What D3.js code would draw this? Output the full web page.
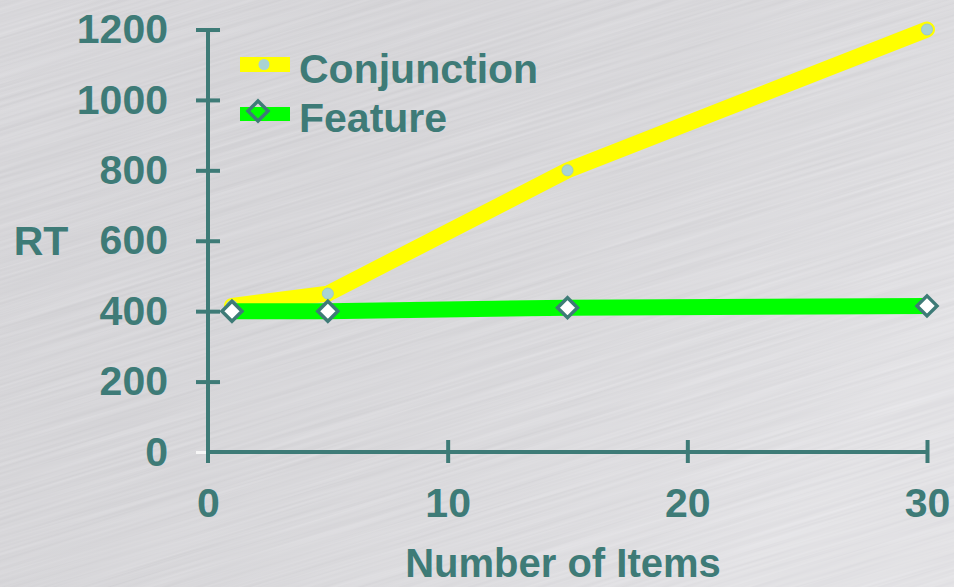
<!DOCTYPE html>
<html>
<head>
<meta charset="utf-8">
<script src="https://cdn.jsdelivr.net/npm/d3@7/dist/d3.min.js"></script>
<style>
  html, body { margin: 0; padding: 0; background: #bcbbc0; }
  svg { display: block; }
  text { font-family: "Liberation Sans", Arial, Helvetica, sans-serif; font-weight: bold; }
</style>
</head>
<body>
<svg id="chart" width="954" height="587"></svg>
<script>
// Response time vs. display size
const itemCounts = [1, 5, 15, 30];
const conjunctionRT = [415, 450, 800, 1200];
const featureRT = [400, 400, 410, 415];
const seriesNames = ["Conjunction", "Feature"];
const yTickValues = [0, 200, 400, 600, 800, 1000, 1200];
const xTickValues = [0, 10, 20, 30];

const W = 954, H = 587;
const ink = "#3e7b77";
const svg = d3.select("#chart");

// ---- brushed metal backdrop ----
const defs = svg.append("defs");
const f = defs.append("filter").attr("id", "brush")
  .attr("filterUnits", "userSpaceOnUse")
  .attr("x", -400).attr("y", -400).attr("width", 1800).attr("height", 1400);
f.append("feTurbulence").attr("type", "fractalNoise")
  .attr("baseFrequency", "0.005 0.35").attr("numOctaves", 3).attr("seed", 7);
f.append("feColorMatrix").attr("type", "matrix")
  .attr("values", "0.14 0 0 0 0.665  0.14 0 0 0 0.66  0.14 0 0 0 0.685  0 0 0 0 1");
const shade = defs.append("linearGradient").attr("id", "shade")
  .attr("x1", 0).attr("y1", 0).attr("x2", 1).attr("y2", 0.6);
shade.append("stop").attr("offset", 0).attr("stop-color", "#000").attr("stop-opacity", 0.03);
shade.append("stop").attr("offset", 1).attr("stop-color", "#fff").attr("stop-opacity", 0.12);

svg.append("rect").attr("width", W).attr("height", H).attr("fill", "#bcbbc0");
svg.append("g").attr("transform", "rotate(-17 477 293)")
  .append("rect").attr("x", -300).attr("y", -300).attr("width", 1560).attr("height", 1200)
  .attr("filter", "url(#brush)");
svg.append("rect").attr("width", W).attr("height", H).attr("fill", "url(#shade)");

// ---- scales ----
const x = d3.scaleLinear().domain([0, 30]).range([208, 927]);
const y = d3.scaleLinear().domain([0, 1200]).range([452, 29.5]);
const fmt = d3.format("d");

// ---- axes ----
const yAxis = d3.axisLeft(y).tickValues(yTickValues).tickFormat(fmt).tickSize(24).tickPadding(28);
const gy = svg.append("g").attr("transform", "translate(220,0)").call(yAxis);
gy.select(".domain").remove();
gy.selectAll(".tick line").attr("stroke", ink).attr("stroke-width", 4);
gy.selectAll(".tick").filter(d => d === 0).select("line")
  .attr("x1", -12).attr("x2", -24).attr("stroke", "#f6f6f6").attr("stroke-width", 3);
gy.selectAll(".tick text").attr("fill", ink).style("font-size", "41px");

const xAxis = d3.axisBottom(x).tickValues(xTickValues).tickFormat(fmt).tickSize(23).tickPadding(25);
const gx = svg.append("g").attr("transform", "translate(0,440)").call(xAxis);
gx.select(".domain").remove();
gx.selectAll(".tick line").attr("stroke", ink).attr("stroke-width", 4);
gx.selectAll(".tick").filter(d => d === 0).select("line").remove();
gx.selectAll(".tick text").attr("fill", ink).style("font-size", "41px");

// axis lines
svg.append("line").attr("x1", x(0)).attr("x2", x(0)).attr("y1", y(1200)).attr("y2", 463)
  .attr("stroke", ink).attr("stroke-width", 4);
svg.append("line").attr("x1", x(0)).attr("x2", x(30)).attr("y1", y(0)).attr("y2", y(0))
  .attr("stroke", ink).attr("stroke-width", 4);

// axis titles
svg.append("text").attr("x", 41).attr("y", y(600)).attr("dy", "0.35em")
  .attr("text-anchor", "middle").attr("fill", ink).style("font-size", "41px").text("RT");
svg.append("text").attr("x", 563).attr("y", 577)
  .attr("text-anchor", "middle").attr("fill", ink).style("font-size", "40px").text("Number of Items");

// ---- series ----
const line = d3.line().x(d => x(d[0])).y(d => y(d[1]));
const conjPts = itemCounts.map((c, i) => [c, conjunctionRT[i]]);
const featPts = itemCounts.map((c, i) => [c, featureRT[i]]);

svg.append("path").datum(conjPts).attr("d", line)
  .attr("fill", "none").attr("stroke", "#ffff00").attr("stroke-width", 16)
  .attr("stroke-linecap", "round").attr("stroke-linejoin", "round");
svg.selectAll(".cdot").data(conjPts).enter().append("circle").attr("class", "cdot")
  .attr("cx", d => x(d[0])).attr("cy", d => y(d[1])).attr("r", 5.5)
  .attr("fill", "#a9d3d3").attr("stroke", "#9cc9c9").attr("stroke-width", 1);

svg.append("path").datum(featPts).attr("d", line)
  .attr("fill", "none").attr("stroke", "#00ff00").attr("stroke-width", 16)
  .attr("stroke-linejoin", "round");

const diamond = (cx, cy, r) => `M${cx},${cy - r}L${cx + r},${cy}L${cx},${cy + r}L${cx - r},${cy}Z`;
svg.selectAll(".fdot").data(featPts).enter().append("path").attr("class", "fdot")
  .attr("d", d => diamond(x(d[0]), y(d[1]), 10))
  .attr("fill", "#ffffff").attr("stroke", ink).attr("stroke-width", 3.5)
  .attr("stroke-linejoin", "miter");

// ---- legend ----
const lg = svg.append("g");
lg.append("rect").attr("x", 240).attr("y", 57).attr("width", 50).attr("height", 15).attr("fill", "#ffff00");
lg.append("circle").attr("cx", 264).attr("cy", 64.5).attr("r", 5.5).attr("fill", "#a9d3d3");
lg.append("rect").attr("x", 240).attr("y", 107).attr("width", 50).attr("height", 14).attr("fill", "#00ff00");
lg.append("path").attr("d", diamond(258, 111, 10))
  .attr("fill", "none").attr("stroke", ink).attr("stroke-width", 3.5);
lg.selectAll("text").data(seriesNames).enter().append("text")
  .attr("x", 299).attr("y", (d, i) => 83 + i * 49)
  .attr("fill", ink).style("font-size", "41px").text(d => d);
</script>
</body>
</html>
